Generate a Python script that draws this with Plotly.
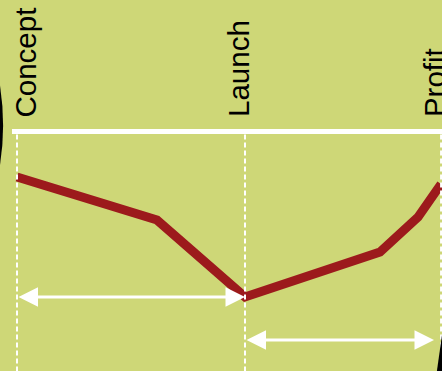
import plotly.graph_objects as go

# stages (x position in months) and labels
stage_labels = ["Concept", "Launch", "Profit"]
stage_x = [0, 10, 18.6]

# cumulative cash-flow curve
curve_x = [0, 6.14, 10, 15.92, 17.59, 18.6]
curve_y = [-4.55, -8.85, -16.55, -12.05, -8.55, -5.25]

# span arrows: (start, end, level)
span_start = [0, 10]
span_end = [10, 18.29]
span_level = [-16.55, -20.85]

BG = "#CED777"
RED = "#9C1A1C"

fig = go.Figure()
fig.add_trace(go.Scatter(x=curve_x, y=curve_y, mode="lines",
                         line=dict(color=RED, width=9), hoverinfo="skip",
                         showlegend=False))

shapes = []
# baseline
shapes.append(dict(type="line", xref="x", yref="y", x0=-0.22, x1=19.5, y0=0, y1=0,
                   line=dict(color="white", width=5)))
# dashed verticals
for sx in stage_x:
    shapes.append(dict(type="line", xref="x", yref="y", x0=sx, x1=sx, y0=-0.3, y1=-30,
                       line=dict(color="white", width=2, dash="5px,3px")))
# black fragments at edges
shapes.append(dict(type="path", xref="paper", yref="paper",
                   path="M 0 0.77 Q 0.014 0.66 0 0.555 Z", fillcolor="black",
                   line=dict(width=0)))
shapes.append(dict(type="path", xref="paper", yref="paper",
                   path="M 1 0.097 L 0.9885 0 L 1 0 Z", fillcolor="black",
                   line=dict(width=0)))

annotations = []
xshifts = [8, -7, -7]
for lab, sx, xs in zip(stage_labels, stage_x, xshifts):
    annotations.append(dict(x=sx, y=0, xref="x", yref="y", text=lab, showarrow=False,
                            textangle=-90, xanchor="center", yanchor="bottom",
                            xshift=xs, yshift=12,
                            font=dict(family="Liberation Sans, Arial", size=29.5, color="black")))
for a, b, lv in zip(span_start, span_end, span_level):
    annotations.append(dict(x=b, y=lv, ax=a, ay=lv, xref="x", yref="y", axref="x", ayref="y",
                            text="", showarrow=True, arrowhead=2, startarrowhead=2,
                            arrowside="end+start", arrowsize=1.3, startarrowsize=1.3,
                            arrowwidth=3, arrowcolor="white", standoff=0, startstandoff=0))

fig.update_layout(
    width=442, height=371, margin=dict(l=0, r=0, t=0, b=0),
    paper_bgcolor=BG, plot_bgcolor=BG,
    xaxis=dict(range=[-0.7456, 18.64], visible=False, fixedrange=True),
    yaxis=dict(range=[-23.95, 13.15], visible=False, fixedrange=True),
    shapes=shapes, annotations=annotations, showlegend=False,
)
fig.write_html("out.html")
